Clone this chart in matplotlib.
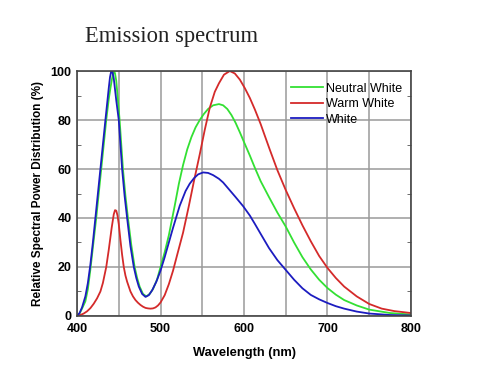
import matplotlib
matplotlib.use('Agg')
import matplotlib.pyplot as plt
from matplotlib.ticker import MultipleLocator

# Values
wl_neutral = [400, 403, 406, 410, 413, 416, 419, 423, 426, 429, 432, 435, 438, 440, 442, 443.5, 444.5,
              445.5, 447, 449, 451, 453, 455, 458, 461, 465, 469, 472, 475, 479, 483, 487,
              491, 496, 500, 505, 510, 517, 522, 527, 532, 537, 542, 547, 552, 557, 563, 570, 575, 580,
              585, 590, 595, 600, 607, 613, 620, 630, 640, 650, 660, 670, 680, 690, 700, 710, 720, 735,
              750, 775, 800]
neutral_white = [0, 1, 3, 6, 11, 19, 28, 40, 50, 60, 70, 80, 88.5, 93, 97, 99.3, 100,
                 99, 96, 88, 80, 70, 60, 49, 40, 29, 20, 15.5, 12, 9, 8, 9,
                 11, 15, 20, 26, 33, 45, 54, 61.6, 68, 73, 77, 80, 82.5, 84.5, 86, 86.5, 86, 84.5,
                 82, 78.8, 75, 71, 65.5, 60.5, 55, 48.5, 42.2, 36.5, 30, 24, 19, 14.8, 11.4, 8.7, 6.5, 4.3,
                 2.6, 1.2, 0.6]

wl_warm = [400, 404, 408, 412, 416, 420, 424, 428, 431, 435, 438, 441.5, 444, 445.5, 447, 448.5, 450,
           452, 454, 456, 458, 460, 462, 464, 467, 470, 473, 476, 479, 482, 485, 488,
           491, 494, 497, 500, 505, 510, 515, 520, 527, 534, 540, 547, 553, 559, 565, 570, 576, 583, 589,
           595, 601, 607, 613, 620, 625, 631, 640, 650, 660, 670, 680, 690, 700, 710, 720, 735, 750,
           765, 780, 800]
warm_white = [0, 0.4, 1, 1.9, 3.2, 5, 7.2, 10, 13.5, 20, 27, 36, 41.5, 43.2, 43, 41, 37.5,
              31, 25, 20, 16.5, 14, 12, 10, 8, 6.5, 5.4, 4.5, 3.8, 3.3, 3.1, 3,
              3.1, 3.5, 4.3, 5.5, 8.5, 13, 18.5, 25, 34, 45, 55, 66, 76, 85, 91.5, 95, 98.5, 100, 99,
              96.5, 93, 89, 84.3, 78.3, 73.5, 67.8, 59.5, 51.4, 44, 37, 30.5, 24.5, 19.6, 15.5, 12, 8, 4.9,
              3, 2, 1.2]

wl_white = [400, 403, 406, 410, 413, 416, 419, 422, 425, 428, 431, 434, 436, 438, 439.5, 441, 442.5,
            444, 445.5, 447, 450, 452, 454, 457, 460, 464, 468, 471, 474, 478, 482,
            486, 490, 495, 500, 505, 510, 515, 523, 530, 535, 540, 545, 551, 557, 563, 570, 575, 580,
            590, 599, 607, 613, 620, 630, 640, 650, 660, 670, 680, 690, 700, 710, 720, 735, 750, 775,
            800]
white = [0, 1.2, 3.5, 8, 13.5, 21, 30, 40, 50, 60, 70, 80, 86.5, 93, 97.5, 100, 99.5,
         97, 92.5, 88, 80, 70, 60, 49, 40, 28.5, 20, 15.5, 12, 9, 7.8,
         8.5, 10.5, 14, 18.5, 24, 30, 36, 45, 51, 54, 56.2, 57.8, 58.6, 58.4, 57.5, 56, 54.5, 52.5,
         48.5, 44.8, 41, 37.6, 33.5, 27.7, 22.8, 18.8, 14.8, 11.3, 8.6, 6.8, 5.3, 4, 3, 1.8, 1, 0.4,
         0.2]

fig = plt.figure(figsize=(4.79, 3.87), dpi=100)
ax = fig.add_axes([0.1608, 0.1835, 0.6972, 0.633])

ax.plot(wl_neutral, neutral_white, color='#33e033', lw=1.3, label='Neutral White')
ax.plot(wl_warm, warm_white, color='#d42a2a', lw=1.3, label='Warm White')
ax.plot(wl_white, white, color='#1c1cc0', lw=1.3, label='White')

ax.set_xlim(400, 800)
ax.set_ylim(0, 100)
ax.xaxis.set_major_locator(MultipleLocator(100))
ax.xaxis.set_minor_locator(MultipleLocator(50))
ax.yaxis.set_major_locator(MultipleLocator(20))
ax.yaxis.set_minor_locator(MultipleLocator(10))
ax.grid(True, which='major', color='#9a9a9a', lw=1.1)
ax.grid(True, which='minor', axis='x', color='#9a9a9a', lw=1.1)
ax.set_axisbelow(True)
ax.tick_params(which='both', direction='in', top=True, right=True, color='#555555')
ax.tick_params(which='major', length=0)
ax.tick_params(axis='x', which='major', pad=5)
ax.tick_params(axis='y', which='major', pad=4)
ax.tick_params(which='minor', length=3)
ax.tick_params(axis='x', which='minor', length=0)
for lbl in ax.get_xticklabels() + ax.get_yticklabels():
    lbl.set_fontfamily('Liberation Sans')
    lbl.set_fontweight('bold')
    lbl.set_fontsize(9)
for sp in ax.spines.values():
    sp.set_color('#444444')
    sp.set_linewidth(1.2)

ax.set_xlabel('Wavelength (nm)', fontfamily='Liberation Sans', fontweight='bold', fontsize=9.3, labelpad=9)
ax.set_ylabel('Relative Spectral Power Distribution (%)', fontfamily='Liberation Sans',
              fontweight='bold', fontsize=8.5, labelpad=5)

ax.legend(loc='upper left', bbox_to_anchor=(0.625, 0.972), frameon=False,
          prop={'family': 'Liberation Sans', 'size': 9}, handlelength=2.6,
          handletextpad=0.2, labelspacing=0.28, borderaxespad=0)

fig.text(0.177, 0.905, 'Emission spectrum', fontfamily='Liberation Serif', fontsize=16.3,
         va='center', ha='left', color='#222222')

fig.savefig('out.png', dpi=100)
